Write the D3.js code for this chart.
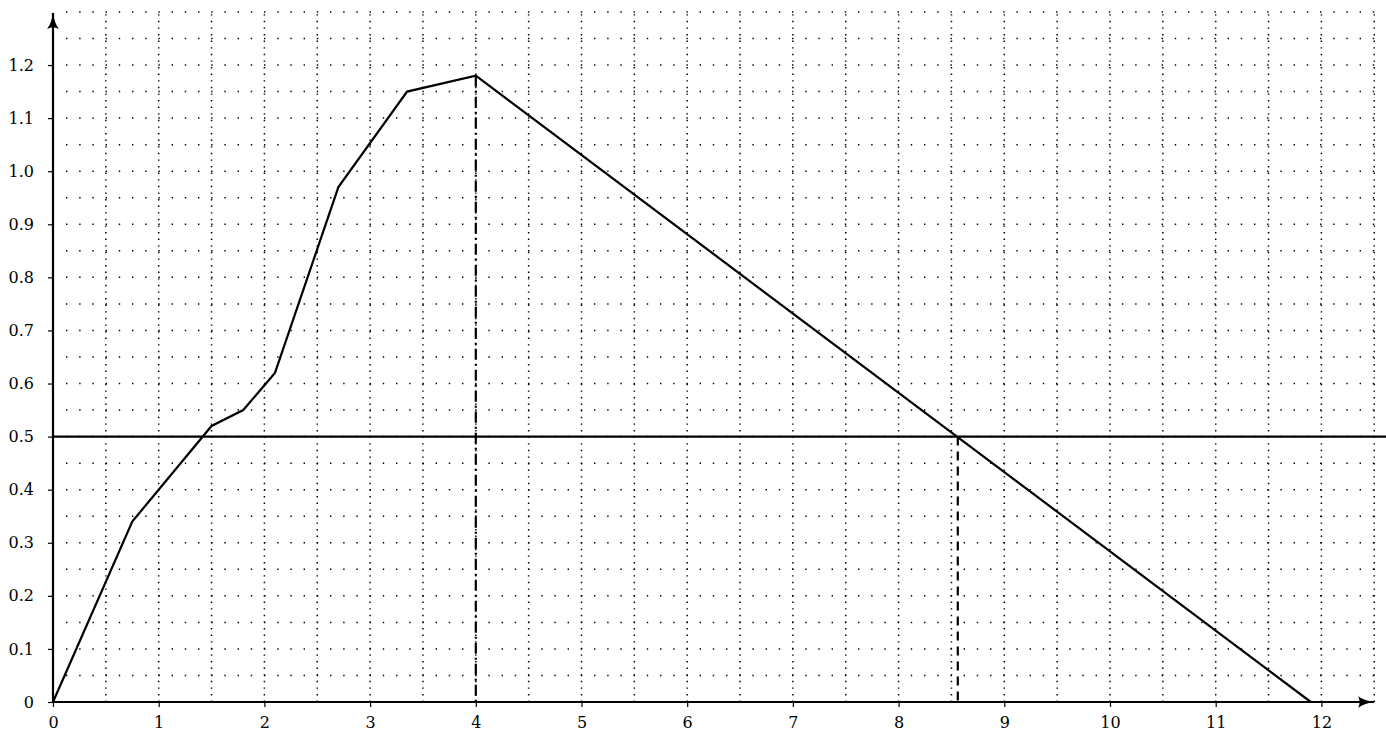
<!DOCTYPE html>
<html>
<head>
<meta charset="utf-8">
<script src="https://cdn.jsdelivr.net/npm/d3@7"></script>
<style>
  body { margin: 0; background: #fff; }
  text { font-family: "DejaVu Serif", serif; font-size: 16px; fill: #000; }
</style>
</head>
<body>
<svg id="chart" width="1386" height="734"></svg>
<script>
// curve points
const xValues = [0, 0.75, 1.5, 1.8, 2.1, 2.7, 3.35, 4, 11.9];
const yValues = [0, 0.34, 0.52, 0.55, 0.62, 0.97, 1.15, 1.18, 0];

const xTicks = [0, 1, 2, 3, 4, 5, 6, 7, 8, 9, 10, 11, 12];
const yTicks = [0, 0.1, 0.2, 0.3, 0.4, 0.5, 0.6, 0.7, 0.8, 0.9, 1.0, 1.1, 1.2];
const yTickLabels = ["0", "0.1", "0.2", "0.3", "0.4", "0.5", "0.6", "0.7", "0.8", "0.9", "1.0", "1.1", "1.2"];

const levelY = 0.5;
const peakX = 4, peakY = 1.18;
const crossX = 8.56;

const xMax = 12.5, yMax = 1.3;

const svg = d3.select("#chart");

const x = d3.scaleLinear().domain([0, xMax]).range([53, 53 + xMax * 105.7]);
const y = d3.scaleLinear().domain([0, yMax]).range([702, 702 - yMax * 530.8]);

// dotted grid
const grid = svg.append("g");
d3.range(1, xMax / 0.5 + 1).map(i => i * 0.5).forEach(v => {
  grid.append("line")
    .attr("x1", x(v)).attr("x2", x(v))
    .attr("y1", y(0)).attr("y2", y(yMax))
    .attr("stroke", "#000").attr("stroke-width", 1.5)
    .attr("stroke-dasharray", "1.4,5.2");
});
d3.range(1, Math.round(yMax / 0.05) + 1).map(i => i * 0.05).forEach(v => {
  grid.append("line")
    .attr("x1", x(0) + 13).attr("x2", x(xMax))
    .attr("y1", y(v)).attr("y2", y(v))
    .attr("stroke", "#000").attr("stroke-width", 1.5)
    .attr("stroke-dasharray", "1.4,11.8");
});

// arrow marker
svg.append("defs").append("marker")
  .attr("id", "arrow")
  .attr("viewBox", "0 0 16 12")
  .attr("refX", 15).attr("refY", 6)
  .attr("markerWidth", 17).attr("markerHeight", 13)
  .attr("markerUnits", "userSpaceOnUse")
  .attr("orient", "auto")
  .append("path")
  .attr("d", "M0,0.5 Q6,5 16,6 Q6,7 0,11.5 Q3,6 0,0.5 Z")
  .attr("fill", "#000");

// axes
const xAxis = svg.append("g")
  .attr("transform", `translate(0,${y(0)})`)
  .call(d3.axisBottom(x).tickValues(xTicks).tickFormat(d3.format("d")).tickSize(5).tickPadding(10));
xAxis.select(".domain").remove();
xAxis.selectAll("line").attr("stroke-width", 1.2);
xAxis.selectAll("text").attr("font-family", "DejaVu Serif").attr("font-size", 16).attr("fill", "#000");

const yAxis = svg.append("g")
  .attr("transform", `translate(${x(0)},0)`)
  .call(d3.axisLeft(y).tickValues(yTicks).tickFormat((d, i) => yTickLabels[i]).tickSize(5).tickPadding(14));
yAxis.select(".domain").remove();
yAxis.selectAll("line").attr("stroke-width", 1.2);
yAxis.selectAll("text").attr("font-family", "DejaVu Serif").attr("font-size", 16).attr("fill", "#000");

svg.append("line")
  .attr("x1", x(0) - 1).attr("x2", 1374)
  .attr("y1", y(0)).attr("y2", y(0))
  .attr("stroke", "#000").attr("stroke-width", 2.2)
  .attr("marker-end", "url(#arrow)");
svg.append("line")
  .attr("x1", x(0)).attr("x2", x(0))
  .attr("y1", y(0) + 1).attr("y2", 13)
  .attr("stroke", "#000").attr("stroke-width", 2.2)
  .attr("marker-end", "url(#arrow)");

// level line y = 0.5
svg.append("line")
  .attr("x1", x(0)).attr("x2", 1386)
  .attr("y1", y(levelY)).attr("y2", y(levelY))
  .attr("stroke", "#000").attr("stroke-width", 2.2);

// vertical guides
svg.append("line")
  .attr("x1", x(peakX)).attr("x2", x(peakX))
  .attr("y1", y(peakY)).attr("y2", y(0))
  .attr("stroke", "#000").attr("stroke-width", 2.2)
  .attr("stroke-dasharray", "11,4,2,4");
svg.append("line")
  .attr("x1", x(crossX)).attr("x2", x(crossX))
  .attr("y1", y(levelY)).attr("y2", y(0))
  .attr("stroke", "#000").attr("stroke-width", 2.2)
  .attr("stroke-dasharray", "9,6");

// curve
const pts = xValues.map((v, i) => [v, yValues[i]]);
svg.append("path")
  .datum(pts)
  .attr("fill", "none")
  .attr("stroke", "#000")
  .attr("stroke-width", 2.2)
  .attr("stroke-linejoin", "miter")
  .attr("d", d3.line().x(d => x(d[0])).y(d => y(d[1])));
</script>
</body>
</html>
